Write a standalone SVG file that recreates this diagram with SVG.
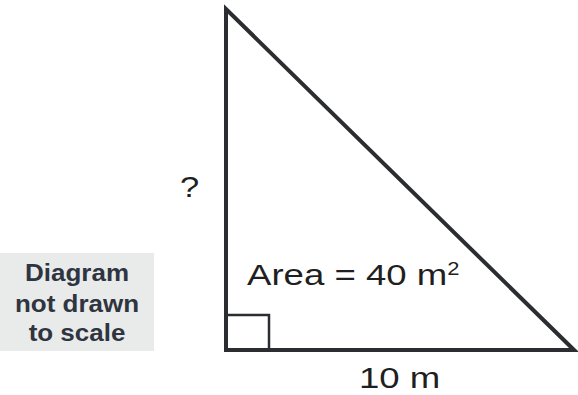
<svg xmlns="http://www.w3.org/2000/svg" width="578" height="395" viewBox="0 0 578 395">
<style>
.lbl{font-family:"Liberation Sans",Arial,sans-serif;fill:#1f1f22;font-size:30px;}
.note{font-family:"Liberation Sans",Arial,sans-serif;font-weight:bold;font-size:23px;fill:#2f3540;text-anchor:middle;}
.edge{fill:none;stroke:#2b2d30;stroke-width:4;stroke-linejoin:miter;}
</style>
<rect width="578" height="395" fill="#fff"/>
<g id="note">
<rect x="0" y="253" width="154" height="98" fill="#e9eaea"/>
<text class="note" transform="translate(77,281) scale(1.13,1)">Diagram</text>
<text class="note" transform="translate(77,312) scale(1.13,1)">not drawn</text>
<text class="note" transform="translate(77,341) scale(1.13,1)">to scale</text>
</g>
<g id="connectors">
<polygon class="edge" points="226,9 226,350 574,350"/>
<rect x="226" y="315" width="43" height="35" fill="none" stroke="#2b2d30" stroke-width="2.5"/>
</g>
<g id="labels">
<text class="lbl" transform="translate(180,197) scale(1.15,1)">?</text>
<text class="lbl" transform="translate(247,285) scale(1.22,1)">Area = 40 m<tspan font-size="18" dy="-10">2</tspan></text>
<text class="lbl" transform="translate(359,388) scale(1.22,1)">10 m</text>
</g>
</svg>
